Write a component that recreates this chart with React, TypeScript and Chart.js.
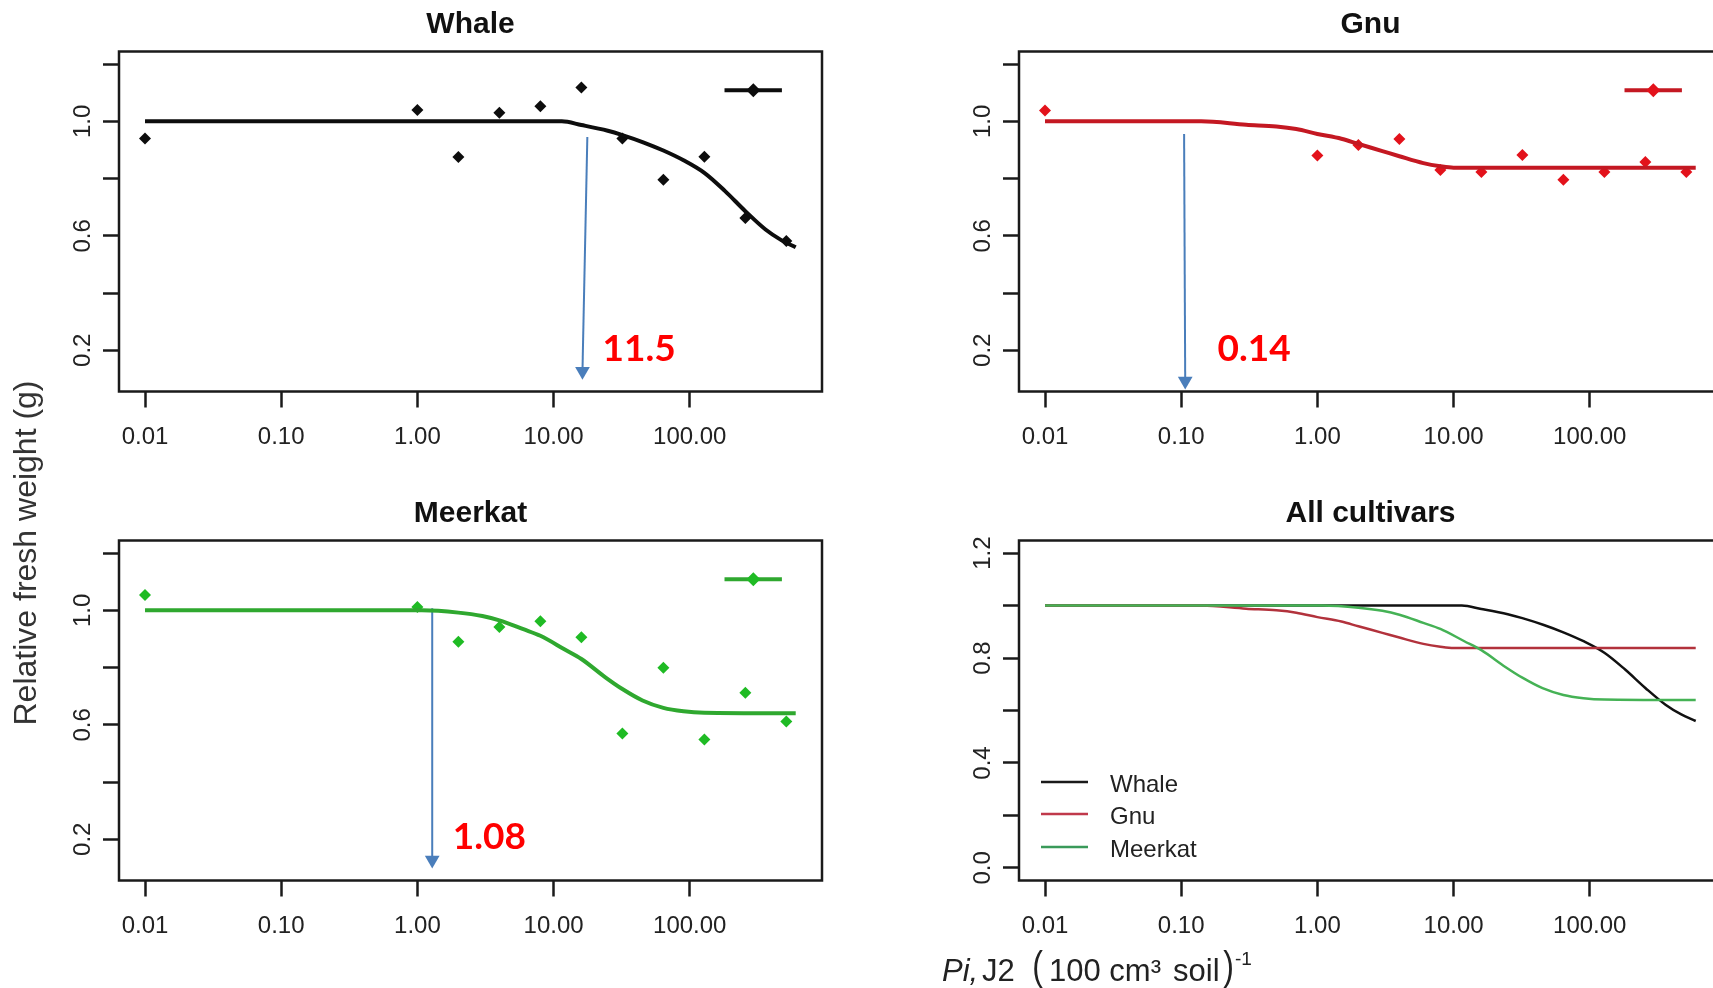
import React, { useEffect, useRef } from 'react';
import { Chart, registerables } from 'chart.js';

Chart.register(...registerables);

// ---------------- data ----------------
const cultivarNames = ['Whale', 'Gnu', 'Meerkat'];
const allPanelTitle = 'All cultivars';

// inoculum densities (J2 per 100 cm3 soil) of the observations
const doses = [0.01, 1, 2, 4, 8, 16, 32, 64, 128, 256, 512];
const whaleObserved = [0.94, 1.04, 0.875, 1.03, 1.053, 1.118, 0.94, 0.796, 0.876, 0.662, 0.582];
const gnuObserved = [1.038, 0.881, 0.917, 0.938, 0.83, 0.823, 0.882, 0.796, 0.823, 0.858, 0.823];
const meerkatObserved = [1.054, 1.012, 0.89, 0.942, 0.962, 0.906, 0.57, 0.799, 0.549, 0.712, 0.612];

// fitted curves
const whaleCurveX = [0.01, 1, 5, 11.5, 16, 25, 32, 46, 64, 90, 128, 181, 256, 360, 470, 600];
const whaleCurveY = [1.0, 1.0, 1.0, 1.0, 0.987, 0.967, 0.952, 0.926, 0.898, 0.864, 0.82, 0.757, 0.686, 0.622, 0.585, 0.56];
const gnuCurveX = [0.01, 0.14, 0.3, 0.5, 0.7, 1, 1.5, 2, 3, 4, 6, 8, 10, 20, 100, 600];
const gnuCurveY = [1.0, 1.0, 0.988, 0.982, 0.973, 0.956, 0.939, 0.921, 0.896, 0.878, 0.854, 0.843, 0.838, 0.838, 0.838, 0.838];
const meerkatCurveX = [0.01, 1.08, 2, 3, 4, 6, 8, 12, 16, 24, 32, 45, 64, 90, 128, 600];
const meerkatCurveY = [1.0, 1.0, 0.992, 0.98, 0.965, 0.934, 0.911, 0.864, 0.83, 0.766, 0.725, 0.685, 0.659, 0.647, 0.642, 0.64];

// symbol key (line with a diamond) in the top-right corner of each panel
const keyX = [180, 293, 475];
const keyY = [1.109, 1.109, 1.109];

// blue arrows (start, end of shaft at the arrow-head centre)
const whaleArrowX = [17.7, 16.3];
const whaleArrowY = [0.945, 0.127];
const gnuArrowX = [0.105, 0.107];
const gnuArrowY = [0.956, 0.093];
const meerkatArrowX = [1.285, 1.285];
const meerkatArrowY = [1.007, 0.128];

// red tolerance-limit notes
const noteTexts = ['11.5', '0.14', '1.08'];
const noteX = [22.9, 0.185, 1.816];
const noteY = [0.164, 0.161, 0.166];

// axes
const xRange = [0.00644, 935.7];
const xTickValues = [0.01, 0.1, 1, 10, 100];
const xTickLabels = ['0.01', '0.10', '1.00', '10.00', '100.00'];
const panelYRange = [0.056, 1.244];
const panelYTickValues = [0.2, 0.4, 0.6, 0.8, 1.0, 1.2];
const panelYTickLabels = ['0.2', '', '0.6', '', '1.0', ''];
const allYRange = [-0.048, 1.248];
const allYTickValues = [0, 0.2, 0.4, 0.6, 0.8, 1.0, 1.2];
const allYTickLabels = ['0.0', '', '0.4', '', '0.8', '', '1.2'];

// ---------------- styling ----------------
const FONT = "'Liberation Sans', Arial, Helvetica, sans-serif";
const NOTE_FONT = "Lato, 'Open Sans', 'Liberation Sans', sans-serif";
const INK = '#1a1a1a';
const ARROW = '#4a7ebb';
const CANVAS_W = 860;
const CANVAS_H = 480;

Chart.defaults.font.family = FONT;
Chart.defaults.color = '#222';

const toXY = (xs: number[], ys: number[]) => xs.map((x, i) => ({ x, y: ys[i] }));

type Note = { text: string; x: number; y: number } | null;
type LegendItem = { label: string; color: string };

function makeDecor(title: string, note: Note, legend: LegendItem[] | null) {
  return {
    id: 'decor',
    afterDatasetsDraw(chart: any) {
      const { ctx, chartArea: a, scales } = chart;
      ctx.save();
      ctx.strokeStyle = INK;
      ctx.lineWidth = 2.5;
      ctx.strokeRect(a.left, a.top, a.right - a.left, a.bottom - a.top);

      ctx.fillStyle = '#111';
      ctx.font = `bold 30px ${FONT}`;
      ctx.textAlign = 'center';
      ctx.textBaseline = 'alphabetic';
      ctx.fillText(title, (a.left + a.right) / 2, a.top - 18.3);

      if (note) {
        ctx.font = `bold 37px ${NOTE_FONT}`;
        ctx.fillStyle = '#ff0000';
        ctx.textAlign = 'left';
        ctx.fillText(note.text, scales.x.getPixelForValue(note.x), scales.y.getPixelForValue(note.y));
      }

      if (legend) {
        const rows = [-98.5, -66.5, -33.5];
        legend.forEach((item, i) => {
          const y = a.bottom + rows[i];
          ctx.strokeStyle = item.color;
          ctx.lineWidth = 2.5;
          ctx.beginPath();
          ctx.moveTo(a.left + 22, y);
          ctx.lineTo(a.left + 69, y);
          ctx.stroke();
          ctx.fillStyle = '#222';
          ctx.font = `24px ${FONT}`;
          ctx.textAlign = 'left';
          ctx.textBaseline = 'middle';
          ctx.fillText(item.label, a.left + 91, y + 3.5);
        });
      }
      ctx.restore();
    },
  };
}

function scalesFor(yRange: number[], yTicks: number[], yLabels: string[]) {
  const grid = {
    display: true,
    drawOnChartArea: false,
    drawTicks: true,
    tickLength: 16,
    tickWidth: 2.5,
    tickColor: INK,
  };
  return {
    x: {
      type: 'logarithmic',
      bounds: 'data',
      min: xRange[0],
      max: xRange[1],
      afterBuildTicks: (s: any) => {
        s.ticks = xTickValues.map((v) => ({ value: v }));
      },
      afterFit: (s: any) => {
        s.height = 88.5;
      },
      ticks: {
        autoSkip: false,
        minRotation: 0,
        maxRotation: 0,
        padding: 15.5,
        color: '#222',
        font: { size: 24, family: FONT },
        callback: (_v: any, i: number) => xTickLabels[i],
      },
      grid,
      border: { display: false },
    },
    y: {
      type: 'linear',
      bounds: 'data',
      min: yRange[0],
      max: yRange[1],
      afterBuildTicks: (s: any) => {
        s.ticks = yTicks.map((v) => ({ value: v }));
      },
      afterFit: (s: any) => {
        s.width = 100;
      },
      ticks: {
        autoSkip: false,
        minRotation: 90,
        maxRotation: 90,
        crossAlign: 'center',
        padding: 3.4,
        color: '#222',
        font: { size: 24, family: FONT },
        callback: (_v: any, i: number) => yLabels[i],
      },
      grid,
      border: { display: false },
    },
  };
}

function baseOptions(yRange: number[], yTicks: number[], yLabels: string[]) {
  return {
    responsive: false,
    maintainAspectRatio: false,
    animation: false,
    layout: { padding: { left: 19, right: 38, top: 51.5, bottom: 0 } },
    plugins: { legend: { display: false }, tooltip: { enabled: false } },
    scales: scalesFor(yRange, yTicks, yLabels),
  };
}

function cultivarConfig(
  idx: number,
  curveX: number[],
  curveY: number[],
  observed: number[],
  arrowX: number[],
  arrowY: number[],
  curveColor: string,
  pointColor: string,
) {
  return {
    type: 'line',
    data: {
      datasets: [
        {
          data: toXY(curveX, curveY),
          borderColor: curveColor,
          borderWidth: 4,
          pointRadius: 0,
          cubicInterpolationMode: 'monotone',
        },
        {
          data: toXY(doses, observed),
          showLine: false,
          pointStyle: 'rectRot',
          pointRadius: 6,
          pointBackgroundColor: pointColor,
          pointBorderColor: pointColor,
          pointBorderWidth: 0,
        },
        {
          data: toXY(keyX, keyY),
          borderColor: curveColor,
          borderWidth: 4,
          pointStyle: 'rectRot',
          pointRadius: [0, 7, 0],
          pointBackgroundColor: pointColor,
          pointBorderColor: pointColor,
          pointBorderWidth: 0,
        },
        {
          data: toXY(arrowX, arrowY),
          borderColor: ARROW,
          borderWidth: 2,
          pointStyle: 'triangle',
          pointRotation: 180,
          pointRadius: [0, 8.5],
          pointBackgroundColor: ARROW,
          pointBorderColor: ARROW,
          pointBorderWidth: 0,
          clip: false,
        },
      ],
    },
    options: baseOptions(panelYRange, panelYTickValues, panelYTickLabels),
    plugins: [makeDecor(cultivarNames[idx], { text: noteTexts[idx], x: noteX[idx], y: noteY[idx] }, null)],
  };
}

const allColors = ['#111111', '#b2323c', '#45b255'];
const legendColors = ['#1a1a1a', '#c0394b', '#3a9a5a'];

function allConfig() {
  const curves = [
    [whaleCurveX, whaleCurveY],
    [gnuCurveX, gnuCurveY],
    [meerkatCurveX, meerkatCurveY],
  ];
  // Chart.js paints the first dataset last, so list Meerkat first to keep it on top
  const datasets = curves
    .map(([xs, ys], i) => ({
      data: toXY(xs, ys),
      borderColor: allColors[i],
      borderWidth: 2.5,
      pointRadius: 0,
      cubicInterpolationMode: 'monotone',
    }))
    .reverse();
  return {
    type: 'line',
    data: { datasets },
    options: baseOptions(allYRange, allYTickValues, allYTickLabels),
    plugins: [
      makeDecor(
        allPanelTitle,
        null,
        cultivarNames.map((label, i) => ({ label, color: legendColors[i] })),
      ),
    ],
  };
}

function Panel({ left, top, build }: { left: number; top: number; build: () => any }) {
  const ref = useRef<HTMLCanvasElement | null>(null);
  useEffect(() => {
    const chart = new Chart(ref.current as HTMLCanvasElement, build());
    return () => chart.destroy();
  }, []);
  return (
    <canvas
      ref={ref}
      width={CANVAS_W}
      height={CANVAS_H}
      style={{ position: 'absolute', left, top, width: CANVAS_W, height: CANVAS_H }}
    />
  );
}

const span = (left: number, top: number, size: number, extra: any = {}) => ({
  position: 'absolute' as const,
  left,
  top,
  fontSize: size,
  lineHeight: 1,
  whiteSpace: 'nowrap' as const,
  ...extra,
});

export default function App() {
  return (
    <div
      style={{
        position: 'fixed',
        left: 0,
        top: 0,
        width: 1713,
        height: 988,
        overflow: 'hidden',
        background: '#fff',
        fontFamily: FONT,
        color: '#222',
      }}
    >
      <Panel
        left={0}
        top={0}
        build={() => cultivarConfig(0, whaleCurveX, whaleCurveY, whaleObserved, whaleArrowX, whaleArrowY, '#0d0d0d', '#0d0d0d')}
      />
      <Panel
        left={900}
        top={0}
        build={() => cultivarConfig(1, gnuCurveX, gnuCurveY, gnuObserved, gnuArrowX, gnuArrowY, '#c41822', '#e3121b')}
      />
      <Panel
        left={0}
        top={489}
        build={() =>
          cultivarConfig(2, meerkatCurveX, meerkatCurveY, meerkatObserved, meerkatArrowX, meerkatArrowY, '#2fa82f', '#1fbb24')
        }
      />
      <Panel left={900} top={489} build={allConfig} />

      {/* shared y-axis title */}
      <div
        style={{
          position: 'absolute',
          left: 24.6 - 200,
          top: 553 - 16,
          width: 400,
          height: 32,
          lineHeight: 1,
          fontSize: 32,
          textAlign: 'center',
          transform: 'rotate(-90deg)',
          whiteSpace: 'nowrap',
          color: '#333',
        }}
      >
        Relative fresh weight (g)
      </div>

      {/* shared x-axis title */}
      <div style={{ position: 'absolute', left: 942, top: 0, color: '#222' }}>
        <span style={span(0, 954.8, 31, { fontStyle: 'italic' })}>Pi,</span>
        <span style={span(40, 954.8, 31)}>J2</span>
        <span style={span(89, 946, 40, { transform: 'scaleX(0.8)' })}>(</span>
        <span style={span(107, 954.8, 31)}>100 cm³</span>
        <span style={span(231, 954.8, 31)}>soil</span>
        <span style={span(280, 946, 40, { transform: 'scaleX(0.8)' })}>)</span>
        <span style={span(293, 948.9, 19)}>-1</span>
      </div>
    </div>
  );
}
